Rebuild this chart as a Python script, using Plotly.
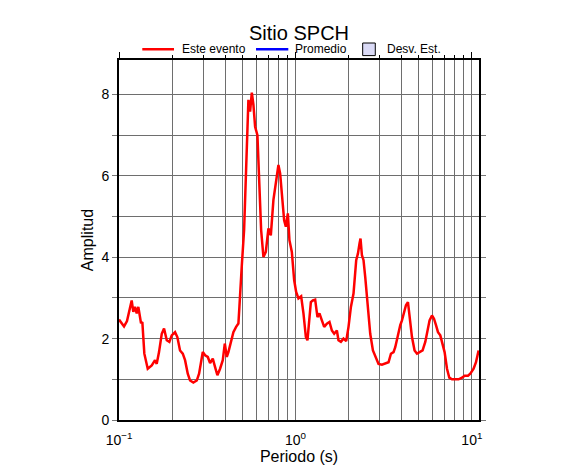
import plotly.graph_objects as go

# Period (s) and amplitude of "Este evento"
periodo = [0.1, 0.1068, 0.111, 0.114, 0.118, 0.1205, 0.1232, 0.126, 0.1287, 0.1333,
           0.1356, 0.1392, 0.1455, 0.1533, 0.16, 0.1636, 0.1686, 0.1747, 0.18, 0.1865,
           0.1929, 0.199, 0.2078, 0.2141, 0.2218, 0.2298, 0.2368, 0.2453, 0.2528, 0.2639,
           0.2759, 0.2843, 0.2918, 0.2984, 0.3075, 0.3185, 0.3282, 0.34, 0.3504, 0.3611,
           0.374, 0.3874, 0.3977, 0.4082, 0.4169, 0.4301, 0.445, 0.461, 0.475, 0.4813,
           0.4857, 0.4966, 0.5117, 0.5232, 0.5343, 0.5413, 0.5534, 0.5659, 0.5778, 0.5908,
           0.6088, 0.6225, 0.639, 0.6584, 0.6794, 0.7029, 0.7252, 0.7503, 0.7742, 0.8009,
           0.8189, 0.8373, 0.8628, 0.8822, 0.9055, 0.9246, 0.9541, 0.9832, 1.0092, 1.04,
           1.0773, 1.1102, 1.1456, 1.1698, 1.1961, 1.2229, 1.2553, 1.2934, 1.3329, 1.3682,
           1.4118, 1.4547, 1.5069, 1.559, 1.6085, 1.6575, 1.717, 1.7532, 1.8097, 1.8722,
           1.9394, 1.9986, 2.0623, 2.1335, 2.2101, 2.2597, 2.3074, 2.3377, 2.3808, 2.4311,
           2.4857, 2.5616, 2.6536, 2.7488, 2.8697, 2.9574, 3.0917, 3.2278, 3.37, 3.4773,
           3.5975, 3.6783, 3.7905, 3.9267, 4.0148, 4.1373, 4.2302, 4.3421, 4.4338, 4.5749,
           4.733, 4.8838, 5.0522, 5.2543, 5.443, 5.6088, 5.7574, 5.9407, 6.0979, 6.2593,
           6.4249, 6.621, 6.7697, 7.0035, 7.2265, 7.447, 7.7143, 8.0543, 8.409, 8.7908,
           9.0945, 9.5036, 9.7932, 10.224, 10.55, 10.914]
amplitud = [2.47, 2.30, 2.43, 2.66, 2.94, 2.66, 2.78, 2.62, 2.78, 2.38,
            2.41, 1.63, 1.26, 1.34, 1.47, 1.38, 1.67, 2.12, 2.25, 1.96,
            1.92, 2.08, 2.16, 2.04, 1.71, 1.63, 1.47, 1.14, 0.97, 0.92,
            0.97, 1.14, 1.47, 1.67, 1.59, 1.55, 1.40, 1.51, 1.30, 1.10,
            1.26, 1.47, 1.88, 1.55, 1.67, 1.92, 2.16, 2.29, 2.37, 2.78,
            3.19, 3.80, 4.67, 5.90, 7.54, 7.87, 7.58, 8.05, 7.75, 7.21,
            7.00, 5.90, 4.67, 4.01, 4.13, 4.71, 4.54, 5.41, 5.82, 6.27,
            6.06, 5.49, 4.91, 4.75, 5.08, 4.42, 4.13, 3.44, 3.15, 2.99,
            3.04, 2.62, 2.04, 1.96, 2.45, 2.90, 2.94, 2.96, 2.53, 2.62,
            2.45, 2.29, 2.37, 2.41, 2.20, 2.12, 2.20, 1.96, 1.92, 2.00,
            1.94, 2.29, 2.78, 3.11, 3.93, 4.09, 4.34, 4.46, 4.05, 3.93,
            3.52, 2.78, 2.12, 1.71, 1.51, 1.38, 1.36, 1.40, 1.42, 1.63,
            1.67, 1.79, 2.08, 2.33, 2.45, 2.66, 2.82, 2.90, 2.53, 2.04,
            1.71, 1.63, 1.67, 1.71, 1.92, 2.20, 2.45, 2.57, 2.49, 2.33,
            2.16, 2.08, 1.92, 1.67, 1.26, 1.04, 1.00, 1.00, 1.00, 1.04,
            1.09, 1.09, 1.14, 1.26, 1.42, 1.71]

x_major = [0.1, 1, 10]
x_major_text = ["10<sup>\u22121</sup>", "10<sup>0</sup>", "10<sup>1</sup>"]
x_minor = [0.2, 0.3, 0.4, 0.5, 0.6, 0.7, 0.8, 0.9, 2, 3, 4, 5, 6, 7, 8, 9]
y_ticks = [0, 1, 2, 3, 4, 5, 6, 7, 8]
y_text = ["0", "", "2", "", "4", "", "6", "", "8"]
legend_names = ["Este evento", "Promedio", "Desv. Est."]
legend_colors = ["#ff0000", "#0000ff", "#dadaf6"]

FONT = "Liberation Sans, Arial, Helvetica, sans-serif"
GRID = "#6e6e6e"

fig = go.Figure()
fig.add_trace(go.Scatter(x=periodo, y=amplitud, mode="lines", name=legend_names[0],
                         line=dict(color=legend_colors[0], width=2.5), showlegend=False))

fig.update_layout(
    width=586, height=475,
    margin=dict(l=119, r=107, t=60, b=55, autoexpand=False),
    paper_bgcolor="white", plot_bgcolor="white",
    font=dict(family=FONT, color="black", size=14),
    title=dict(text="Sitio SPCH", x=0.5, xref="paper", xanchor="center",
               y=1 - 33 / 475, yanchor="middle", font=dict(size=20)),
    showlegend=False,
    xaxis=dict(type="log", range=[-1, 1.0403], tickmode="array", tickvals=x_major,
               ticktext=x_major_text, showgrid=True, gridcolor=GRID, gridwidth=1,
               ticks="outside", ticklen=6, tickcolor="rgba(0,0,0,0)",
               minor=dict(tickmode="array", tickvals=x_minor, showgrid=True,
                          gridcolor=GRID, gridwidth=1, ticks=""),
               showline=True, linecolor="black", linewidth=2, mirror=True,
               zeroline=False,
               title=dict(text="Periodo (s)", font=dict(size=16), standoff=3)),
    xaxis2=dict(type="log", range=[-1, 1.0403], overlaying="x", side="top", anchor="y",
                tickmode="array", tickvals=x_major, showticklabels=False,
                ticks="outside", ticklen=7, tickcolor="black", tickwidth=1,
                minor=dict(tickmode="array", tickvals=x_minor, ticks="outside",
                           ticklen=4, tickcolor="black", tickwidth=1, showgrid=False),
                showgrid=False, showline=False, zeroline=False),
    yaxis=dict(range=[0, 8.85], tickmode="array", tickvals=y_ticks, ticktext=y_text,
               showgrid=True, gridcolor=GRID, gridwidth=1, zeroline=False,
               ticks="outside", ticklen=5, tickcolor="#777", tickwidth=1,
               showline=True, linecolor="black", linewidth=2, mirror="ticks",
               title=dict(text="Amplitud", font=dict(size=16), standoff=4)),
)
fig.add_trace(go.Scatter(x=[None], y=[None], xaxis="x2", showlegend=False, hoverinfo="skip"))

# Hand-built legend above the plot (paper coordinates)
ly = 1.0297
fig.add_shape(type="line", xref="paper", yref="paper", x0=0.0647, x1=0.1528, y0=ly, y1=ly,
              line=dict(color=legend_colors[0], width=2.5))
fig.add_shape(type="line", xref="paper", yref="paper", x0=0.3806, x1=0.4703, y0=ly, y1=ly,
              line=dict(color=legend_colors[1], width=2.5))
fig.add_shape(type="rect", xref="paper", yref="paper", x0=0.6769, x1=0.7119,
              y0=1.0122, y1=1.0472, fillcolor=legend_colors[2],
              line=dict(color="black", width=1))
for name, xt in zip(legend_names, [0.1690, 0.4837, 0.7384]):
    fig.add_annotation(text=name, xref="paper", yref="paper", x=xt, y=ly,
                       xanchor="left", yanchor="middle", showarrow=False,
                       font=dict(size=12))

fig.write_html("out.html", config={"displayModeBar": False},
               post_script="document.body.style.margin='0';")
